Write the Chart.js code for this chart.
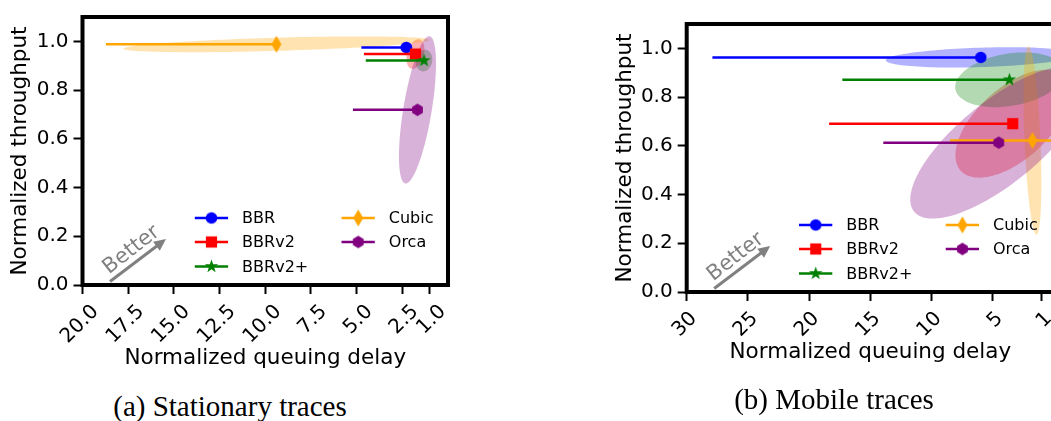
<!DOCTYPE html>
<html>
<head>
<meta charset="utf-8">
<script src="https://cdn.jsdelivr.net/npm/chart.js@4.4.0/dist/chart.umd.min.js"></script>
<style>
  html, body { margin: 0; padding: 0; background: #fff; }
  body { width: 1051px; height: 421px; overflow: hidden; position: relative; }
  canvas { position: absolute; }
  #chartA { left: 0; top: 0; }
  #chartB { left: 604px; top: 7px; }
  .caption {
    position: absolute; white-space: nowrap; transform: translateX(-50%);
    font-family: "Liberation Serif", "Times New Roman", serif; font-size: 29px; line-height: 29px; color: #000;
  }
</style>
</head>
<body>
<canvas id="chartA" width="470" height="385"></canvas>
<canvas id="chartB" width="470" height="385"></canvas>
<div class="caption" style="left:230px; top:392px;">(a) Stationary traces</div>
<div class="caption" style="left:834px; top:385px;">(b) Mobile traces</div>
<script>
// series, in legend order
const seriesNames = ['BBR', 'BBRv2', 'BBRv2+', 'Cubic', 'Orca'];
const seriesColors = ['#0000ff', '#ff0000', '#008000', '#ffa500', '#800080'];
const seriesMarkers = ['circle', 'square', 'star', 'thinDiamond', 'hexagon'];

const yTicks = [0, 0.2, 0.4, 0.6, 0.8, 1.0];
const stationaryXTicks = [20, 17.5, 15, 12.5, 10, 7.5, 5, 2.5, 1];
const mobileXTicks = [30, 25, 20, 15, 10, 5, 1];

// (a) stationary traces
const stationaryDelay = [2.28, 1.78, 1.31, 9.39, 1.67];
const stationaryDelayWorst = [4.74, 4.6, 4.5, 18.72, 5.2];
const stationaryDelayBest = [2.28, 1.78, 1.31, 9.39, 1.67];
const stationaryThroughput = [0.975, 0.948, 0.921, 0.988, 0.719];
// spread of the runs (half axes of the ellipse, in delay / throughput units)
const stationarySpreadMajor = [[-0.33, 0], [-0.22, 0.06], [-0.11, 0.044], [-8.37, 0.018], [-0.66, 0.302]];
const stationarySpreadMinor = [[0, -0.024], [-0.44, -0.008], [-0.44, -0.006], [-0.02, -0.027], [-0.77, -0.008]];

// (b) mobile traces
const mobileDelay = [5.98, 3.37, 3.64, 1.76, 4.51];
const mobileDelayWorst = [27.9, 18.37, 17.29, 8.49, 13.94];
const mobileDelayBest = [5.98, 3.37, 3.64, 0, 4.51];
const mobileThroughput = [0.963, 0.691, 0.871, 0.622, 0.613];
const mobileSpreadMajor = [[-7.76, 0.012], [-4.25, 0.193], [-4.41, 0.04], [0.33, 0.387], [-6.94, 0.282]];
const mobileSpreadMinor = [[-0.02, -0.04], [-1.96, -0.109], [-0.44, -0.105], [-0.65, 0.001], [-2.04, -0.133]];

Chart.defaults.font.family = "'DejaVu Sans', sans-serif";
Chart.defaults.color = '#000';

function makeMarker(shape, color) {
    const c = document.createElement('canvas');
    const w = shape === 'thinDiamond' ? 12 : 15;
    const h = shape === 'thinDiamond' ? 19 : 15;
    c.width = w;
    c.height = h;
    const g = c.getContext('2d');
    g.fillStyle = color;
    g.translate(w / 2, h / 2);
    g.beginPath();
    if (shape === 'circle') {
        g.arc(0, 0, 5.8, 0, Math.PI * 2);
    } else if (shape === 'square') {
        g.rect(-5.6, -5.6, 11.2, 11.2);
    } else if (shape === 'star') {
        for (let k = 0; k < 10; k++) {
            const r = k % 2 ? 2.8 : 7;
            const a = -Math.PI / 2 + k * Math.PI / 5;
            g.lineTo(r * Math.cos(a), r * Math.sin(a));
        }
    } else if (shape === 'thinDiamond') {
        g.moveTo(0, -8.5); g.lineTo(5, 0); g.lineTo(0, 8.5); g.lineTo(-5, 0);
    } else {
        for (let k = 0; k < 6; k++) {
            const a = -Math.PI / 2 + k * Math.PI / 3;
            g.lineTo(6.2 * Math.cos(a), 6.2 * Math.sin(a));
        }
    }
    g.closePath();
    g.fill();
    return c;
}

const markers = seriesMarkers.map((m, i) => makeMarker(m, seriesColors[i]));

function withAlpha(hex, a) {
    const n = parseInt(hex.slice(1), 16);
    return `rgba(${n >> 16}, ${(n >> 8) & 255}, ${n & 255}, ${a})`;
}

// ellipses under the data, frame / legend / arrow on top
function decorPlugin(p) {
    return {
        id: 'decor',
        beforeDatasetsDraw(chart) {
            const {ctx, chartArea: a, scales: {x, y}} = chart;
            ctx.save();
            ctx.beginPath();
            ctx.rect(a.left, a.top, a.right - a.left, a.bottom - a.top);
            ctx.clip();
            seriesNames.forEach((name, i) => {
                const cx = p.delay[i], cy = p.thr[i];
                const [ax, ay] = p.major[i];
                const [bx, by] = p.minor[i];
                ctx.beginPath();
                for (let k = 0; k <= 120; k++) {
                    const t = k / 120 * Math.PI * 2;
                    const px = x.getPixelForValue(cx + ax * Math.cos(t) + bx * Math.sin(t));
                    const py = y.getPixelForValue(cy + ay * Math.cos(t) + by * Math.sin(t));
                    if (k === 0) ctx.moveTo(px, py); else ctx.lineTo(px, py);
                }
                ctx.closePath();
                ctx.fillStyle = withAlpha(seriesColors[i], 0.3);
                ctx.fill();
            });
            ctx.restore();
        },
        afterDatasetsDraw(chart) {
            const {ctx, chartArea: a} = chart;
            ctx.save();
            // frame
            ctx.lineWidth = 4;
            ctx.strokeStyle = '#000';
            ctx.strokeRect(a.left, a.top, a.right - a.left, a.bottom - a.top);

            // legend
            const cols = [[0, 1, 2], [3, 4]];
            const colX = [112.3, 259];
            const rowY = [201, 225, 249.5];
            ctx.font = "16px 'DejaVu Sans'";
            ctx.textBaseline = 'middle';
            ctx.textAlign = 'left';
            cols.forEach((col, c) => {
                col.forEach((i, r) => {
                    const lx = a.left + colX[c];
                    const ly = a.top + rowY[r];
                    ctx.strokeStyle = seriesColors[i];
                    ctx.lineWidth = 2.5;
                    ctx.beginPath();
                    ctx.moveTo(lx, ly);
                    ctx.lineTo(lx + 33.3, ly);
                    ctx.stroke();
                    const m = markers[i];
                    ctx.drawImage(m, lx + 16.7 - m.width / 2, ly - m.height / 2);
                    ctx.fillStyle = '#000';
                    ctx.fillText(seriesNames[i], lx + 47.3, ly + 1);
                });
            });

            // "Better" arrow
            const x0 = a.left + 27.5, y0 = a.bottom - 3.5;
            const x1 = a.left + 83.5, y1 = a.bottom - 46;
            const ang = Math.atan2(y1 - y0, x1 - x0);
            ctx.strokeStyle = '#808080';
            ctx.fillStyle = '#808080';
            ctx.lineWidth = 3;
            ctx.beginPath();
            ctx.moveTo(x0, y0);
            ctx.lineTo(x1 - 9 * Math.cos(ang), y1 - 9 * Math.sin(ang));
            ctx.stroke();
            ctx.beginPath();
            ctx.moveTo(x1, y1);
            ctx.lineTo(x1 - 12 * Math.cos(ang) + 5.5 * Math.sin(ang), y1 - 12 * Math.sin(ang) - 5.5 * Math.cos(ang));
            ctx.lineTo(x1 - 12 * Math.cos(ang) - 5.5 * Math.sin(ang), y1 - 12 * Math.sin(ang) + 5.5 * Math.cos(ang));
            ctx.closePath();
            ctx.fill();
            ctx.translate(a.left + 49, a.bottom - 35);
            ctx.rotate(-38 * Math.PI / 180);
            ctx.font = "21px 'DejaVu Sans'";
            ctx.textAlign = 'center';
            ctx.fillText('Better', 0, 0);
            ctx.restore();
        }
    };
}

function buildChart(canvasId, p) {
    const datasets = seriesNames.map((name, i) => ({
        label: name,
        data: [
            {x: p.worst[i], y: p.thr[i]},
            {x: p.delay[i], y: p.thr[i]},
            {x: p.best[i], y: p.thr[i]}
        ],
        borderColor: seriesColors[i],
        backgroundColor: seriesColors[i],
        borderWidth: 2.5,
        pointStyle: markers[i],
        pointRadius: ctx => ctx.dataIndex === 1 ? 6 : 0,
        pointHoverRadius: 0,
        order: -i
    }));

    const gridOpts = {drawOnChartArea: false, drawTicks: true, tickLength: 9, tickWidth: 2, tickColor: '#000'};

    return new Chart(document.getElementById(canvasId), {
        type: 'line',
        data: {datasets},
        options: {
            responsive: false,
            animation: false,
            devicePixelRatio: 1,
            events: [],
            layout: {padding: {left: 0, top: 12, right: p.padRight, bottom: 0}},
            plugins: {legend: {display: false}, tooltip: {enabled: false}},
            scales: {
                x: {
                    type: 'linear',
                    min: 0,
                    max: p.xMax,
                    reverse: true,
                    afterBuildTicks: s => { s.ticks = p.xTicks.map(v => ({value: v})); },
                    afterFit: s => { s.height = 100; },
                    grid: gridOpts,
                    border: {display: false},
                    ticks: {
                        font: {size: 20}, color: '#000', autoSkip: false,
                        minRotation: 45, maxRotation: 45, padding: 6, labelOffset: p.labelOffset,
                        callback: v => p.xFormat(v)
                    },
                    title: {
                        display: true, text: 'Normalized queuing delay', color: '#000',
                        font: {size: 21.5}, padding: {top: 0, bottom: p.xTitlePad}
                    }
                },
                y: {
                    min: 0,
                    max: 1.1,
                    afterBuildTicks: s => { s.ticks = yTicks.map(v => ({value: v})); },
                    afterFit: s => { s.width = p.yAxisWidth; },
                    grid: gridOpts,
                    border: {display: false},
                    ticks: {font: {size: 20}, color: '#000', padding: 5, callback: v => v.toFixed(1)},
                    title: {
                        display: true, text: 'Normalized throughput', color: '#000',
                        font: {size: 21.5}, padding: {top: p.yTitlePad, bottom: 0}
                    }
                }
            }
        },
        plugins: [decorPlugin(p)]
    });
}

const stationaryChart = buildChart('chartA', {
    delay: stationaryDelay, worst: stationaryDelayWorst, best: stationaryDelayBest,
    thr: stationaryThroughput, major: stationarySpreadMajor, minor: stationarySpreadMinor,
    xMax: 20, xTicks: stationaryXTicks, xFormat: v => v.toFixed(1), labelOffset: 13,
    padRight: 22, yAxisWidth: 82.5, xTitlePad: 14, yTitlePad: 7.6
});

const mobileChart = buildChart('chartB', {
    delay: mobileDelay, worst: mobileDelayWorst, best: mobileDelayBest,
    thr: mobileThroughput, major: mobileSpreadMajor, minor: mobileSpreadMinor,
    xMax: 30, xTicks: mobileXTicks, xFormat: v => String(v), labelOffset: 7,
    padRight: 20, yAxisWidth: 82.7, xTitlePad: 26.6, yTitlePad: 8.6
});
</script>
</body>
</html>
